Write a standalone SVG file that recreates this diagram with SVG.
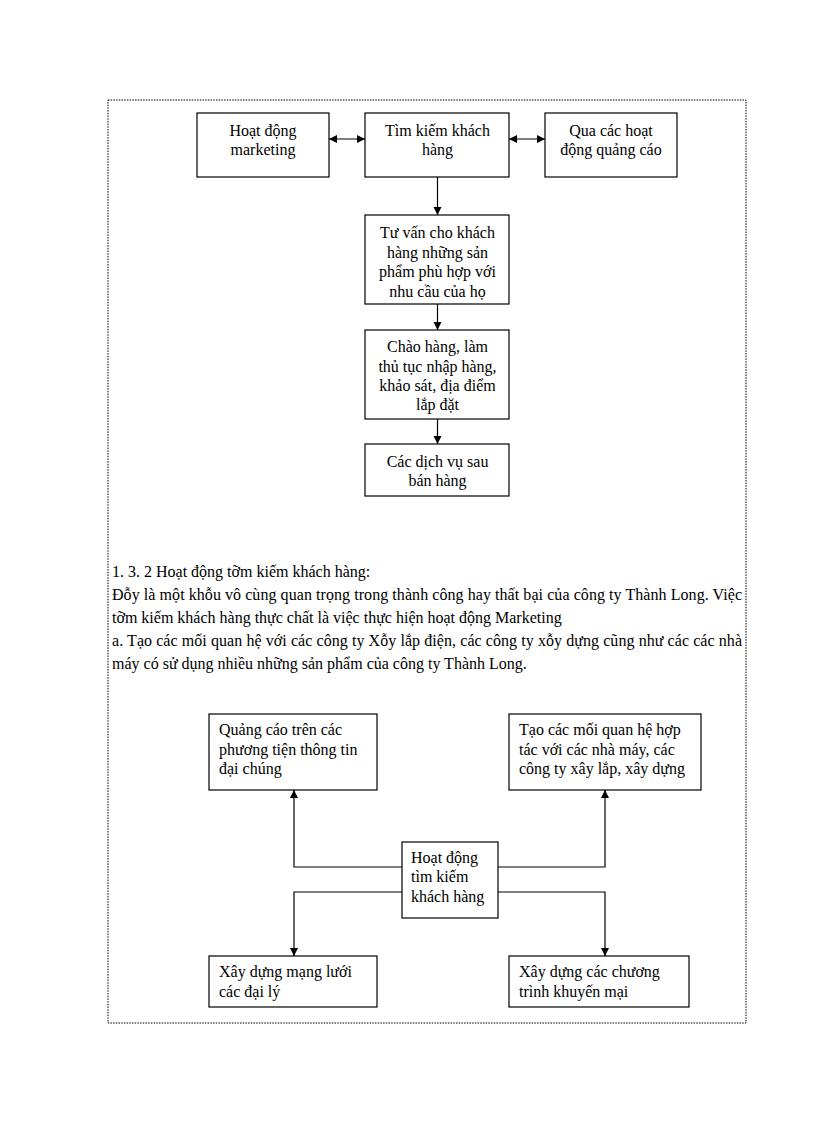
<svg xmlns="http://www.w3.org/2000/svg" width="816" height="1123" viewBox="0 0 816 1123">
<style>
.box{fill:#fff;stroke:#000;stroke-width:1.2}
.t{font-family:"Liberation Serif","Times New Roman",serif;font-size:16px;fill:#000}
.c{text-anchor:middle}
.ln{fill:none;stroke:#000;stroke-width:1.2}
.frame{fill:none;stroke:#000;stroke-width:1;stroke-dasharray:1.5 1.2}
</style>
<defs>
<marker id="ah" viewBox="0 0 10 10" refX="10" refY="5" markerWidth="8" markerHeight="9" markerUnits="userSpaceOnUse" orient="auto-start-reverse">
<path d="M0,0 L10,5 L0,10 z" fill="#000"/>
</marker>
</defs>
<rect width="816" height="1123" fill="#fff"/>
<rect class="frame" x="108" y="100" width="638" height="923"/>

<g id="connectors">
<line class="ln" x1="329" y1="139" x2="365" y2="139" marker-start="url(#ah)" marker-end="url(#ah)"/>
<line class="ln" x1="509" y1="139" x2="545" y2="139" marker-start="url(#ah)" marker-end="url(#ah)"/>
<line class="ln" x1="437.5" y1="177" x2="437.5" y2="215" marker-end="url(#ah)"/>
<line class="ln" x1="437.5" y1="304" x2="437.5" y2="330" marker-end="url(#ah)"/>
<line class="ln" x1="437.5" y1="419" x2="437.5" y2="444" marker-end="url(#ah)"/>
<polyline class="ln" points="402,867 294,867 294,790" marker-end="url(#ah)"/>
<polyline class="ln" points="498,867 605,867 605,790" marker-end="url(#ah)"/>
<polyline class="ln" points="402,892 294,892 294,956" marker-end="url(#ah)"/>
<polyline class="ln" points="498,892 605,892 605,956" marker-end="url(#ah)"/>
</g>

<g id="n-marketing">
<rect class="box" x="197" y="113" width="132" height="64"/>
<text class="t c" x="263" y="136">Hoạt động</text>
<text class="t c" x="263" y="155">marketing</text>
</g>
<g id="n-timkiem">
<rect class="box" x="365" y="113" width="144" height="64"/>
<text class="t c" x="437.5" y="136">Tìm kiếm khách</text>
<text class="t c" x="437.5" y="155">hàng</text>
</g>
<g id="n-quangcao">
<rect class="box" x="545" y="113" width="132" height="64"/>
<text class="t c" x="611" y="136">Qua các hoạt</text>
<text class="t c" x="611" y="155">động quảng cáo</text>
</g>
<g id="n-tuvan">
<rect class="box" x="365" y="215" width="144" height="89"/>
<text class="t c" x="437.5" y="238">Tư vấn cho khách</text>
<text class="t c" x="437.5" y="257.5">hàng những sản</text>
<text class="t c" x="437.5" y="277">phẩm phù hợp với</text>
<text class="t c" x="437.5" y="296.5">nhu cầu của họ</text>
</g>
<g id="n-chaohang">
<rect class="box" x="365" y="330" width="144" height="89"/>
<text class="t c" x="437.5" y="352">Chào hàng, làm</text>
<text class="t c" x="437.5" y="371.5">thủ tục nhập hàng,</text>
<text class="t c" x="437.5" y="391">khảo sát, địa điểm</text>
<text class="t c" x="437.5" y="410">lắp đặt</text>
</g>
<g id="n-dichvu">
<rect class="box" x="365" y="444" width="144" height="52"/>
<text class="t c" x="437.5" y="467">Các dịch vụ sau</text>
<text class="t c" x="437.5" y="486">bán hàng</text>
</g>

<g id="paragraph">
<text class="t" x="112" y="577">1. 3. 2 Hoạt động tỡm kiếm khách hàng:</text>
<text class="t" x="112" y="600" textLength="630" lengthAdjust="spacing">Đỗy là một khỗu vô cùng quan trọng trong thành công hay thất bại của công ty Thành Long. Việc</text>
<text class="t" x="112" y="623">tỡm kiếm khách hàng thực chất là việc thực hiện hoạt động Marketing</text>
<text class="t" x="112" y="646" textLength="630" lengthAdjust="spacing">a. Tạo các mối quan hệ với các công ty Xỗy lắp điện, các công ty xỗy dựng cũng như các các nhà</text>
<text class="t" x="112" y="669">máy có sử dụng nhiều những sản phẩm của công ty Thành Long.</text>
</g>

<g id="n-qc-thongtin">
<rect class="box" x="209" y="714" width="168" height="76"/>
<text class="t" x="219" y="735">Quảng cáo trên các</text>
<text class="t" x="219" y="755">phương tiện thông tin</text>
<text class="t" x="219" y="774">đại chúng</text>
</g>
<g id="n-hoptac">
<rect class="box" x="509" y="714" width="192" height="76"/>
<text class="t" x="519" y="735">Tạo các mối quan hệ hợp</text>
<text class="t" x="519" y="755">tác với các nhà máy, các</text>
<text class="t" x="519" y="774">công ty xây lắp, xây dựng</text>
</g>
<g id="n-center">
<rect class="box" x="402" y="842" width="96" height="76"/>
<text class="t" x="411" y="863">Hoạt động</text>
<text class="t" x="411" y="882">tìm kiếm</text>
<text class="t" x="411" y="902">khách hàng</text>
</g>
<g id="n-daily">
<rect class="box" x="209" y="956" width="168" height="51"/>
<text class="t" x="219" y="977">Xây dựng mạng lưới</text>
<text class="t" x="219" y="997">các đại lý</text>
</g>
<g id="n-khuyenmai">
<rect class="box" x="509" y="956" width="180" height="51"/>
<text class="t" x="519" y="977">Xây dựng các chương</text>
<text class="t" x="519" y="997">trình khuyến mại</text>
</g>
</svg>
